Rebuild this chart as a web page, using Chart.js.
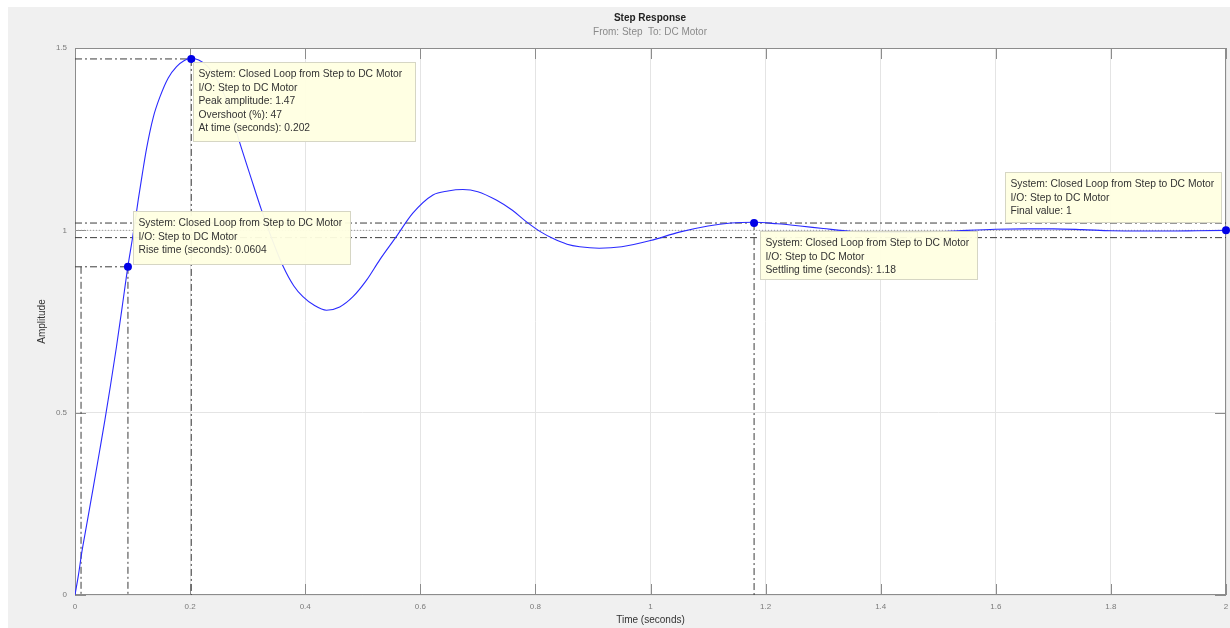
<!DOCTYPE html>
<html><head><meta charset="utf-8">
<script src="https://cdn.jsdelivr.net/npm/chart.js@4.4.1/dist/chart.umd.min.js"></script>
<style>html,body{margin:0;padding:0;background:#fff;overflow:hidden}canvas{display:block}</style>
</head><body>
<canvas id="c" width="1230" height="628"></canvas>
<script>
// ---- data ----
const timeS = [0,0.006,0.0116,0.02,0.032,0.042,0.052,0.062,0.072,0.082,0.092,0.098,0.105,0.11,0.117,0.1244,0.136,0.1476,0.162,0.1765,0.19,0.202,
  0.215,0.23,0.245,0.26,0.273,0.2865,0.305,0.324,0.343,0.362,0.38,0.396,0.415,0.437,0.46,0.483,0.506,0.5295,0.558,0.587,0.622,0.648,0.674,0.70,0.732,0.76,0.784,0.81,0.83,0.855,0.877,0.911,0.95,
  1.0,1.05,1.1,1.14,1.18,1.22,1.26,1.3,1.35,1.4,1.45,1.5,1.55,1.6,1.65,1.7,1.75,1.8,1.85,1.9,1.95,2.0];
const amplitude = [0,0.055,0.115,0.19,0.297,0.388,0.48,0.578,0.68,0.79,0.902,0.96,1.03,1.085,1.155,1.225,1.31,1.366,1.418,1.449,1.466,1.472,
  1.467,1.45,1.418,1.37,1.31,1.239,1.148,1.056,0.973,0.9,0.848,0.818,0.795,0.781,0.79,0.818,0.862,0.919,0.982,1.047,1.097,1.108,1.112,1.106,1.083,1.055,1.024,0.995,0.978,0.962,0.955,0.951,0.955,
  0.972,0.995,1.012,1.02,1.022,1.018,1.012,1.005,0.997,0.994,0.994,0.996,1.0,1.003,1.004,1.004,1.002,0.999,0.998,0.998,0.999,1.0];
const xTickValues = [0,0.2,0.4,0.6,0.8,1,1.2,1.4,1.6,1.8,2];
const xTickLabels = ['0','0.2','0.4','0.6','0.8','1','1.2','1.4','1.6','1.8','2'];
const yTickValues = [0,0.5,1,1.5];
const yTickLabels = ['0','0.5','1','1.5'];
const peakTime = 0.202, peakAmp = 1.47;
const riseStartTime = 0.0105, riseEndTime = 0.092, riseLevel = 0.9;
const settleTime = 1.18, settleAmp = 1.02, settleUpper = 1.02, settleLower = 0.98;
const finalTime = 2, finalValue = 1;
const titleText = 'Step Response';
const subtitleText = 'From: Step  To: DC Motor';
const tipPeak = ['System: Closed Loop from Step to DC Motor','I/O: Step to DC Motor','Peak amplitude: 1.47','Overshoot (%): 47','At time (seconds): 0.202'];
const tipRise = ['System: Closed Loop from Step to DC Motor','I/O: Step to DC Motor','Rise time (seconds): 0.0604'];
const tipSettle = ['System: Closed Loop from Step to DC Motor','I/O: Step to DC Motor','Settling time (seconds): 1.18'];
const tipFinal = ['System: Closed Loop from Step to DC Motor','I/O: Step to DC Motor','Final value: 1'];

const FONT = '"Liberation Sans", Arial, sans-serif';
const DASHDOT = [7,3,2,3];
const LINEC = '#3c3c3c';

function seg(points, dash, color, w) {
  return { data: points, showLine: true, borderColor: color, borderWidth: w || 1, borderDash: dash,
           pointRadius: 0, fill: false, tension: 0, clip: 0 };
}

const curve = timeS.map((t, i) => ({ x: t, y: amplitude[i] }));

const datasets = [
  { data: [{x:peakTime,y:peakAmp},{x:riseEndTime,y:riseLevel},{x:settleTime,y:settleAmp},{x:finalTime,y:finalValue}],
    pointRadius: 4, pointBackgroundColor: '#0000e6', pointBorderWidth: 0, showLine: false, clip: 8 },
  { data: curve, showLine: true, borderColor: '#2a2aff', borderWidth: 1.1, pointRadius: 0,
    cubicInterpolationMode: 'monotone', tension: 0.4, fill: false },
  seg([{x:0,y:peakAmp},{x:peakTime,y:peakAmp}], DASHDOT, LINEC),
  seg([{x:peakTime,y:peakAmp},{x:peakTime,y:0}], DASHDOT, LINEC),
  seg([{x:0,y:riseLevel},{x:riseEndTime,y:riseLevel}], DASHDOT, LINEC),
  seg([{x:riseEndTime,y:riseLevel},{x:riseEndTime,y:0}], DASHDOT, LINEC),
  seg([{x:riseStartTime,y:riseLevel},{x:riseStartTime,y:0}], DASHDOT, LINEC),
  seg([{x:0,y:settleUpper},{x:2,y:settleUpper}], DASHDOT, LINEC),
  seg([{x:0,y:settleLower},{x:2,y:settleLower}], DASHDOT, LINEC),
  seg([{x:settleTime,y:settleUpper},{x:settleTime,y:0}], DASHDOT, LINEC),
  seg([{x:0,y:finalValue},{x:2,y:finalValue}], [1,2], '#9a9a9a')
];

const framePlugin = {
  id: 'frame',
  beforeDraw(chart) {
    const c = chart.ctx, a = chart.chartArea;
    c.save();
    c.fillStyle = '#ffffff'; c.fillRect(0, 0, chart.width, chart.height);
    c.fillStyle = '#f0f0f0'; c.fillRect(8, 7, chart.width - 8, chart.height - 7);
    c.fillStyle = '#ffffff'; c.fillRect(a.left, a.top, a.right - a.left, a.bottom - a.top);
    c.restore();
  },
  beforeDatasetsDraw(chart) {
    const c = chart.ctx, a = chart.chartArea, xs = chart.scales.x, ys = chart.scales.y;
    const TL = 11;
    c.save();
    c.strokeStyle = '#8c8c8c'; c.lineWidth = 1;
    c.beginPath();
    xTickValues.forEach(v => {
      const px = Math.round(xs.getPixelForValue(v)) + 0.5;
      c.moveTo(px, a.bottom); c.lineTo(px, a.bottom - TL);
      c.moveTo(px, a.top); c.lineTo(px, a.top + TL);
    });
    yTickValues.forEach(v => {
      const py = Math.round(ys.getPixelForValue(v)) + 0.5;
      c.moveTo(a.left, py); c.lineTo(a.left + TL, py);
      c.moveTo(a.right, py); c.lineTo(a.right - TL, py);
    });
    c.stroke();
    c.strokeRect(a.left + 0.5, a.top + 0.5, a.right - a.left - 1, a.bottom - a.top - 1);
    c.restore();
  },
  afterDraw(chart) {
    const c = chart.ctx, xs = chart.scales.x, ys = chart.scales.y;
    c.save();
    c.textAlign = 'center'; c.textBaseline = 'middle';
    c.fillStyle = '#222'; c.font = 'bold 10px ' + FONT;
    c.fillText(titleText, 650, 18);
    c.fillStyle = '#8a8a8a'; c.font = '10px ' + FONT;
    c.fillText(subtitleText, 650, 32);
    c.restore();

    function tip(lines, t, v, dx, dy, w, h) {
      const x = Math.round(xs.getPixelForValue(t) + dx) + 0.5;
      const y = Math.round(ys.getPixelForValue(v) + dy) + 0.5;
      c.save();
      c.fillStyle = 'rgba(255,255,225,0.95)';
      c.fillRect(x, y, w, h);
      c.strokeStyle = '#d6d6c4'; c.lineWidth = 1;
      c.strokeRect(x, y, w, h);
      c.fillStyle = '#333'; c.font = '10.3px ' + FONT;
      c.textAlign = 'left'; c.textBaseline = 'middle';
      lines.forEach((s, i) => c.fillText(s, x + 5, y + 12 + i * 13.5));
      c.restore();
    }
    tip(tipPeak, peakTime, peakAmp, 2, 3, 222, 79);
    tip(tipRise, riseEndTime, riseLevel, 5, -56, 217, 53);
    tip(tipSettle, settleTime, settleAmp, 6, 8, 217, 48);
    tip(tipFinal, finalTime, finalValue, -221, -58, 216, 50);
  }
};

new Chart(document.getElementById('c'), {
  type: 'scatter',
  data: { datasets },
  options: {
    responsive: false, animation: false, events: [],
    layout: { padding: { left: 0, right: 3, top: 48, bottom: 0 } },
    plugins: { legend: { display: false }, tooltip: { enabled: false } },
    scales: {
      x: {
        type: 'linear', min: 0, max: 2,
        afterBuildTicks: s => { s.ticks = xTickValues.map(v => ({ value: v })); },
        afterFit: s => { s.height = 33; s.paddingLeft = 0; s.paddingRight = 0; },
        grid: { color: '#e4e4e4', drawTicks: false, lineWidth: 1 },
        border: { display: false },
        ticks: { padding: 7, color: '#7a7a7a', font: { size: 8, family: FONT }, maxRotation: 0, autoSkip: false,
                 callback: (v, i) => xTickLabels[i] },
        title: { display: true, text: 'Time (seconds)', color: '#333', font: { size: 10, family: FONT }, padding: { top: 0, bottom: 2 } }
      },
      y: {
        type: 'linear', min: 0, max: 1.5,
        afterBuildTicks: s => { s.ticks = yTickValues.map(v => ({ value: v })); },
        afterFit: s => { s.width = 75; s.paddingTop = 0; s.paddingBottom = 0; },
        grid: { color: '#e4e4e4', drawTicks: false, lineWidth: 1 },
        border: { display: false },
        ticks: { padding: 8, color: '#7a7a7a', font: { size: 8, family: FONT }, autoSkip: false,
                 callback: (v, i) => yTickLabels[i] },
        title: { display: true, text: 'Amplitude', color: '#333', font: { size: 10, family: FONT }, padding: { top: 36, bottom: 0 } }
      }
    }
  },
  plugins: [framePlugin]
});
</script>
</body></html>
